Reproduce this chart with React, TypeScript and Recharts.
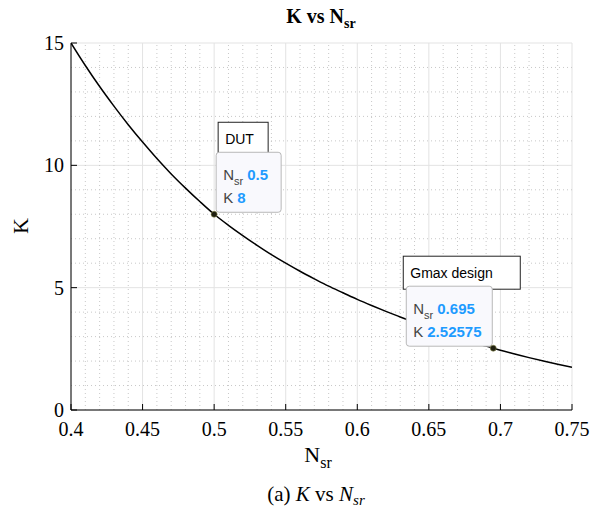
import React from "react";
import {
  LineChart,
  Line,
  XAxis,
  YAxis,
  CartesianGrid,
  ReferenceLine,
  ReferenceDot,
} from "recharts";

// curve
const N_SR = [
  0.4, 0.41, 0.42, 0.43, 0.44, 0.45, 0.46, 0.47, 0.48, 0.49, 0.5, 0.51, 0.52, 0.53, 0.54, 0.55, 0.56, 0.57,
  0.58, 0.59, 0.6, 0.61, 0.62, 0.63, 0.64, 0.65, 0.66, 0.67, 0.68, 0.69, 0.695, 0.7, 0.71, 0.72, 0.73, 0.74, 0.75,
];
const K_VALUES = [
  15.0, 14.08, 13.22, 12.42, 11.66, 10.95, 10.28, 9.65, 9.07, 8.52, 8.0, 7.55, 7.13, 6.73, 6.35, 6.0, 5.67, 5.36,
  5.06, 4.79, 4.52, 4.27, 4.03, 3.8, 3.59, 3.38, 3.17, 2.97, 2.78, 2.61, 2.52575, 2.44, 2.29, 2.14, 2.0, 1.87, 1.75,
];

const X_TICKS = [0.4, 0.45, 0.5, 0.55, 0.6, 0.65, 0.7, 0.75];
const Y_TICKS = [0, 5, 10, 15];
const X_MINOR = [
  0.41, 0.42, 0.43, 0.44, 0.46, 0.47, 0.48, 0.49, 0.51, 0.52, 0.53, 0.54, 0.56, 0.57, 0.58, 0.59, 0.61, 0.62,
  0.63, 0.64, 0.66, 0.67, 0.68, 0.69, 0.71, 0.72, 0.73, 0.74,
];
const Y_MINOR = [1, 2, 3, 4, 6, 7, 8, 9, 11, 12, 13, 14];

// data tips
const TIP_N = [0.5, 0.695];
const TIP_K = [8, 2.52575];
const TIP_TEXT = ["DUT", "Gmax design"];

const data = N_SR.map((n, i) => ({ n, k: K_VALUES[i] }));

const SERIF = "'Liberation Serif', 'DejaVu Serif', serif";
const SANS = "'Liberation Sans', Arial, sans-serif";
const TICK_LEN = 6;

const BottomTick = ({ x, y, payload }: any) => (
  <g>
    <line x1={x} y1={y} x2={x} y2={y - TICK_LEN} stroke="#000" />
    <text x={x} y={y + 26} textAnchor="middle" fontFamily={SERIF} fontSize={20} fill="#000">
      {String(payload.value)}
    </text>
  </g>
);

const TopTick = ({ x, y }: any) => <line x1={x} y1={y} x2={x} y2={y + TICK_LEN} stroke="#000" />;

const LeftTick = ({ x, y, payload }: any) => (
  <g>
    <line x1={x} y1={y} x2={x + TICK_LEN} y2={y} stroke="#000" />
    <text x={x - 7} y={y + 7} textAnchor="end" fontFamily={SERIF} fontSize={20} fill="#000">
      {String(payload.value)}
    </text>
  </g>
);

const RightTick = ({ x, y }: any) => <line x1={x} y1={y} x2={x - TICK_LEN} y2={y} stroke="#000" />;

function DataTip({ cx, cy, idx }: any) {
  const left = idx === 1;
  const n = String(TIP_N[idx]);
  const k = String(TIP_K[idx]);
  const tipW = left ? 86 : 65;
  const tipX = left ? cx - 87 : cx + 2;
  const tipY = cy - 62;
  const boxX = left ? cx - 90 : cx + 4;
  const boxW = left ? 117 : 50;
  return (
    <g>
      <rect x={boxX} y={cy - 92} width={boxW} height={33} fill="#fff" stroke="#222" strokeWidth={1} />
      <text x={boxX + 7} y={cy - 70} fontFamily={SANS} fontSize={14} fill="#000">
        {TIP_TEXT[idx]}
      </text>
      <rect x={tipX} y={tipY} width={tipW} height={60} rx={3} fill="#f9f9fd" stroke="#b8b8b8" strokeWidth={1} />
      <text x={tipX + 7} y={tipY + 28} fontFamily={SANS} fontSize={15} fill="#444">
        N
        <tspan fontSize={11} dy={5}>sr</tspan>
        <tspan dx={4} dy={-5} fill="#1e9bff" fontWeight="bold">
          {n}
        </tspan>
      </text>
      <text x={tipX + 7} y={tipY + 51} fontFamily={SANS} fontSize={15} fill="#444">
        K
        <tspan dx={4} fill="#1e9bff" fontWeight="bold">
          {k}
        </tspan>
      </text>
      <circle cx={cx} cy={cy} r={3} fill="#1f1f10" stroke="#8a8a50" strokeWidth={0.6} />
    </g>
  );
}

export default function App() {
  return (
    <div style={{ position: "absolute", left: 0, top: 0, width: 603, height: 525, background: "#fff" }}>
      <LineChart width={603} height={525} data={data} margin={{ top: 43, right: 31, bottom: 85, left: 41 }}>
        <CartesianGrid stroke="#e3e3e3" strokeWidth={1} />
        {X_MINOR.map((v) => (
          <ReferenceLine key={"x" + v} x={v} stroke="#c8c8c8" strokeDasharray="1 3" />
        ))}
        {Y_MINOR.map((v) => (
          <ReferenceLine key={"y" + v} y={v} stroke="#c8c8c8" strokeDasharray="1 3" />
        ))}
        <XAxis
          dataKey="n"
          type="number"
          domain={[0.4, 0.75]}
          ticks={X_TICKS}
          allowDataOverflow
          height={30}
          tickSize={0}
          tickMargin={0}
          tickLine={false}
          axisLine={{ stroke: "#000" }}
          tick={<BottomTick />}
        />
        <XAxis
          xAxisId="top"
          orientation="top"
          dataKey="n"
          type="number"
          domain={[0.4, 0.75]}
          ticks={X_TICKS}
          allowDataOverflow
          height={0}
          tickSize={0}
          tickMargin={0}
          tickLine={false}
          axisLine={{ stroke: "#000" }}
          tick={<TopTick />}
        />
        <YAxis
          type="number"
          domain={[0, 15]}
          ticks={Y_TICKS}
          allowDataOverflow
          width={30}
          tickSize={0}
          tickMargin={0}
          tickLine={false}
          axisLine={{ stroke: "#000" }}
          tick={<LeftTick />}
        />
        <YAxis
          yAxisId="right"
          orientation="right"
          type="number"
          domain={[0, 15]}
          ticks={Y_TICKS}
          allowDataOverflow
          width={0}
          tickSize={0}
          tickMargin={0}
          tickLine={false}
          axisLine={{ stroke: "#000" }}
          tick={<RightTick />}
        />
        <Line type="monotone" dataKey="k" stroke="#000" strokeWidth={1.5} dot={false} isAnimationActive={false} />
        {TIP_N.map((n, i) => (
          <ReferenceDot key={"tip" + i} x={n} y={TIP_K[i]} r={3} shape={(p: any) => <DataTip {...p} idx={i} />} />
        ))}
        <text x={321} y={23} textAnchor="middle" fontFamily={SERIF} fontSize={20} fontWeight="bold" fill="#000">
          K vs N
          <tspan fontSize={14} dy={5}>sr</tspan>
        </text>
        <text
          x={28}
          y={226}
          transform="rotate(-90 28 226)"
          textAnchor="middle"
          fontFamily={SERIF}
          fontSize={22}
          fill="#000"
        >
          K
        </text>
        <text x={318} y={462} textAnchor="middle" fontFamily={SERIF} fontSize={22} fill="#000">
          N
          <tspan fontSize={16} dy={6}>sr</tspan>
        </text>
        <text x={316} y={501} textAnchor="middle" fontFamily={SERIF} fontSize={21} fill="#000">
          (a){" "}
          <tspan fontStyle="italic">K</tspan> vs <tspan fontStyle="italic">N</tspan>
          <tspan fontStyle="italic" fontSize={15} dy={4}>sr</tspan>
        </text>
      </LineChart>
    </div>
  );
}
